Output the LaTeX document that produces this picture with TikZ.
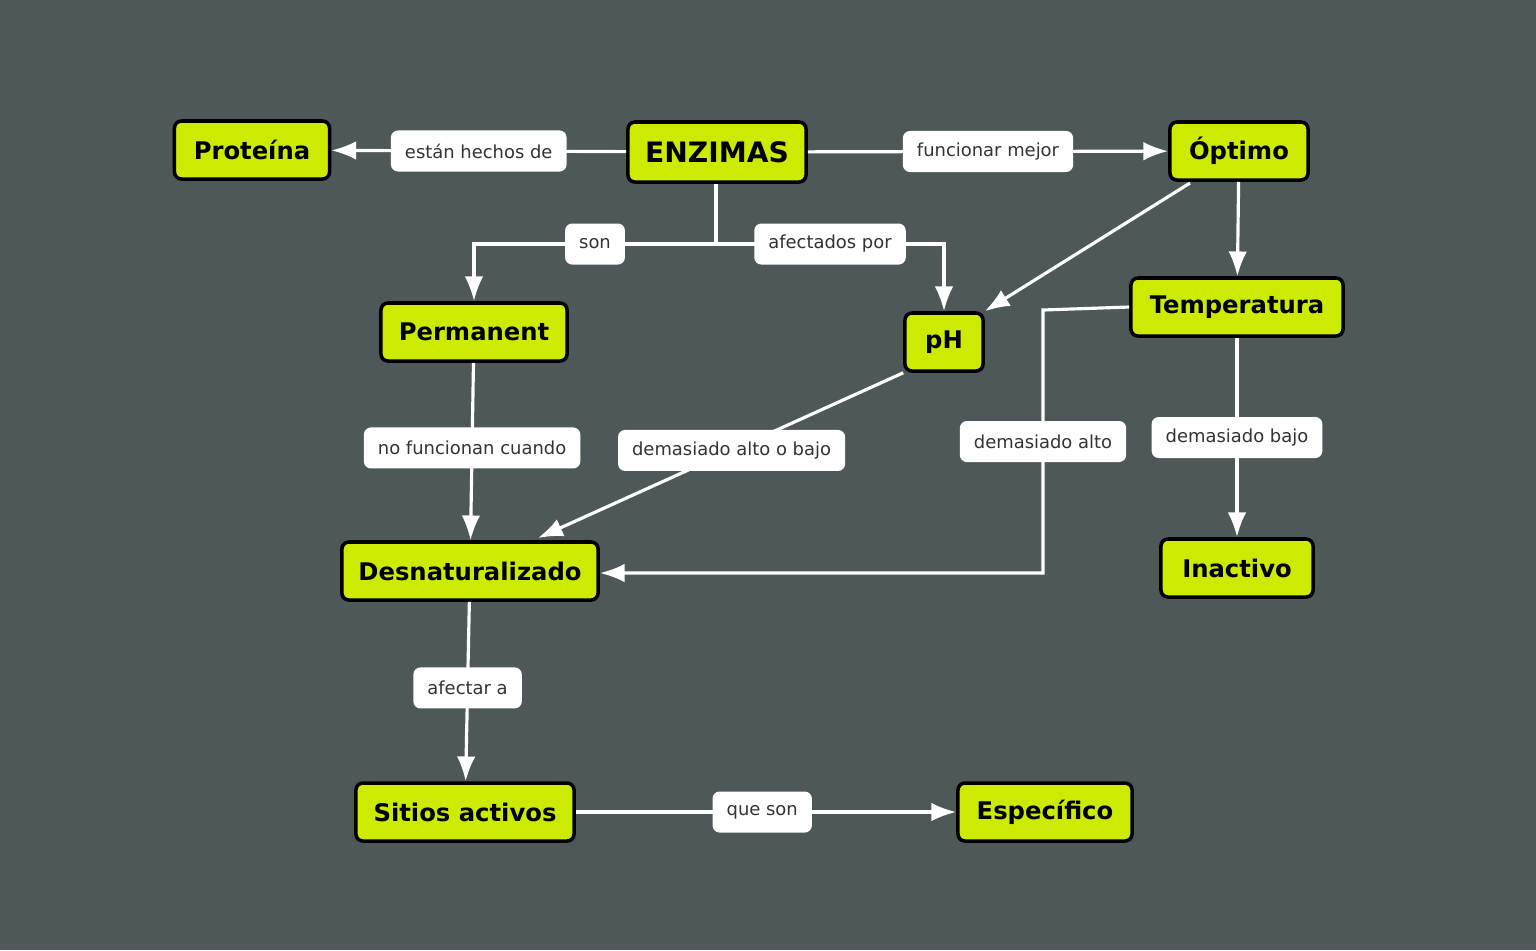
\documentclass[tikz,border=0pt]{standalone}
\usepackage{fontspec}
\setmainfont{DejaVu Sans}
\usetikzlibrary{arrows.meta}
\definecolor{bgcol}{HTML}{4F5858}
\definecolor{nodecol}{HTML}{CDEB00}
\definecolor{txtcol}{HTML}{333333}
\begin{document}
\begin{tikzpicture}[%
        x = 0.01cm, y = -0.01cm,
        > = Latex,
        concept/.style = {
            draw = black, line width = 1pt, fill = nodecol, rounded corners = 2pt,
            font = \bfseries\fontsize{6.9}{8}\selectfont,
            minimum height = 0.58cm, inner xsep = 0pt
        },
        lbl/.style = {
            fill = white, rounded corners = 2pt, text = txtcol,
            font = \fontsize{5.1}{6}\selectfont,
            minimum height = 0.41cm, inner xsep = 4pt
        },
        link/.style = {draw = white, line width = 0.9pt, ->}
    ]

        \fill[bgcol] (0, 0) rectangle (1536, 950);
        \useasboundingbox (0, 0) rectangle (1536, 950);

        % Concepts
        \node[concept, minimum width = 1.55cm] (proteina) at (252, 150) {Proteína};
        \node[concept, minimum width = 1.78cm, minimum height = 0.6cm,
              font = \bfseries\fontsize{8}{9}\selectfont] (enzimas) at (717, 152) {ENZIMAS};
        \node[concept, minimum width = 1.38cm] (optimo) at (1239, 151) {Óptimo};
        \node[concept, minimum width = 1.86cm] (permanent) at (474, 332) {Permanent};
        \node[concept, minimum width = 0.78cm] (ph) at (944, 342) {pH};
        \node[concept, minimum width = 2.12cm] (temp) at (1237, 307) {Temperatura};
        \node[concept, minimum width = 2.56cm] (desnat) at (470, 571) {Desnaturalizado};
        \node[concept, minimum width = 1.52cm] (inactivo) at (1237, 568) {Inactivo};
        \node[concept, minimum width = 2.18cm] (sitios) at (465, 812) {Sitios activos};
        \node[concept, minimum width = 1.74cm] (especifico) at (1045, 812) {Específico};

        % Bends
        \coordinate (fork) at (716, 244);
        \coordinate (tbend) at (1043, 310);
        \coordinate (tdown) at (1043, 573);

        % Connectors
        \draw[link] (enzimas) -- node[lbl, pos = 0.5] {están hechos de} (proteina);
        \draw[link] (enzimas) -- node[lbl] {funcionar mejor} (optimo);
        \draw[link] (enzimas.south -| fork) -- (fork) -- node[lbl] {son} (fork -| permanent) -- (permanent);
        \draw[link] (fork) -- node[lbl, pos = 0.5] {afectados por} (fork -| ph) -- (ph);
        \draw[link] (1190, 183) -- (ph.north east);
        \draw[link] (optimo) -- (temp);
        \draw[link] (temp.west) -- (tbend) -- node[lbl, pos = 0.5] {demasiado alto} (tdown) -- (desnat.east |- tdown);
        \draw[link] (temp) -- node[lbl] {demasiado bajo} (inactivo);
        \draw[link] (ph.south west) -- node[lbl, pos = 0.47] {demasiado alto o bajo} (538, 538);
        \draw[link] (permanent) -- node[lbl, pos = 0.48] {no funcionan cuando} (desnat);
        \draw[link] (desnat) -- node[lbl, pos = 0.48] {afectar a} (sitios);
        \draw[link] (sitios) -- node[lbl, pos = 0.49] {que son} (especifico);
    \end{tikzpicture}
\end{document}
